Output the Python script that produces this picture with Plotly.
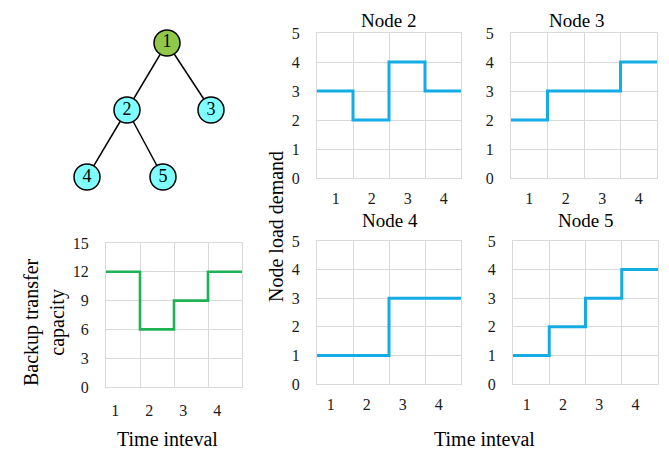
import plotly.graph_objects as go

# ---------------- data ----------------
time_labels = ["1", "2", "3", "4"]
interval_edges = [0, 1, 2, 3, 4]

backup_capacity = [12, 6, 9, 12]
node2_demand = [3, 2, 4, 3]
node3_demand = [2, 3, 3, 4]
node4_demand = [1, 1, 3, 3]
node5_demand = [1, 2, 3, 4]

tree_nodes = ["1", "2", "3", "4", "5"]
tree_x = [2.0, 1.0, 3.1, 0.0, 1.9]
tree_level = [0, 1, 1, 2, 2]
tree_edges = [("1", "2"), ("1", "3"), ("2", "4"), ("2", "5")]
tree_colors = ["#92C84A", "#7FFFFF", "#7FFFFF", "#7FFFFF", "#7FFFFF"]

# ---------------- layout helpers ----------------
W, H = 669, 451
OFF = 8  # page body margin in the browser
FONT = "Liberation Serif, Times New Roman, serif"
GRID = "#D9D9D9"
BLUE = "#14ACE4"
GREEN = "#1DB354"


def px_x(p):
    return (p - OFF) / W


def px_y(p):
    return 1 - (p - OFF) / H


fig = go.Figure()


def step_xy(vals):
    return interval_edges, list(vals) + [vals[-1]]


panels = [
    # (data, color, xaxis, yaxis, x domain px, y domain px, ymax, dtick, label offset)
    (backup_capacity, GREEN, "x", "y", (106, 242), (243, 387), 15, 3, 0.27),
    (node2_demand, BLUE, "x2", "y2", (317, 461), (33, 178), 5, 1, 0.52),
    (node3_demand, BLUE, "x3", "y3", (511, 657), (33, 178), 5, 1, 0.5),
    (node4_demand, BLUE, "x4", "y4", (317, 461), (241, 384), 5, 1, 0.38),
    (node5_demand, BLUE, "x5", "y5", (513, 658), (241, 384), 5, 1, 0.38),
]

for i, (vals, col, xa, ya, xd, yd, ymax, dt, off) in enumerate(panels):
    xs, ys = step_xy(vals)
    fig.add_trace(go.Scatter(x=xs, y=ys, mode="lines", line_shape="hv",
                             line=dict(color=col, width=3 if col == BLUE else 2.6),
                             xaxis=xa, yaxis=ya, showlegend=False,
                             hoverinfo="skip"))
    sfx = "" if i == 0 else str(i + 1)
    fig.update_layout(**{
        "xaxis" + sfx: dict(
            domain=[px_x(xd[0]), px_x(xd[1])], anchor=ya,
            range=[interval_edges[0], interval_edges[-1]],
            tickvals=[e + off for e in interval_edges[:-1]], ticktext=time_labels,
            showgrid=False, zeroline=False, automargin=False,
            showline=True, mirror=True, linecolor=GRID, linewidth=1,
            ticks="", ticklabelstandoff=6 if i else 9,
            tickfont=dict(family=FONT, size=16, color="#1a1a1a"),
            minor=dict(tickvals=interval_edges, showgrid=True, gridcolor=GRID,
                       gridwidth=1, ticks=""),
            fixedrange=True,
        ),
        "yaxis" + sfx: dict(
            domain=[px_y(yd[1]), px_y(yd[0])], anchor=xa,
            range=[0, ymax], dtick=dt, tick0=0, automargin=False,
            showgrid=True, gridcolor=GRID, gridwidth=1, zeroline=False,
            showline=True, mirror=True, linecolor=GRID, linewidth=1,
            ticks="", ticklabelstandoff=13,
            tickfont=dict(family=FONT, size=16, color="#1a1a1a"),
            fixedrange=True,
        ),
    })

# ---------------- tree ----------------
pos = {n: (x, l) for n, x, l in zip(tree_nodes, tree_x, tree_level)}
ex, ey = [], []
for a, b in tree_edges:
    ex += [pos[a][0], pos[b][0], None]
    ey += [pos[a][1], pos[b][1], None]
fig.add_trace(go.Scatter(x=ex, y=ey, mode="lines",
                         line=dict(color="black", width=1.5),
                         xaxis="x6", yaxis="y6", showlegend=False,
                         hoverinfo="skip"))
fig.add_trace(go.Scatter(x=tree_x, y=tree_level, mode="markers+text",
                         text=tree_nodes, textposition="middle center",
                         textfont=dict(family=FONT, size=18, color="black"),
                         marker=dict(size=26, color=tree_colors,
                                     line=dict(color="black", width=1.5)),
                         xaxis="x6", yaxis="y6", showlegend=False,
                         hoverinfo="skip", cliponaxis=False))
fig.update_layout(
    xaxis6=dict(domain=[px_x(60), px_x(260)], range=[-0.675, 4.325],
                visible=False, anchor="y6", fixedrange=True, automargin=False),
    yaxis6=dict(domain=[px_y(200), px_y(20)], range=[2.343, -0.343],
                visible=False, anchor="x6", fixedrange=True, automargin=False),
)

# ---------------- annotations ----------------
ann = []


def add_text(text, x, y, size=20, angle=0, yanchor="middle"):
    ann.append(dict(text=text, x=px_x(x), y=px_y(y), xref="paper", yref="paper",
                    showarrow=False, textangle=angle, xanchor="center",
                    yanchor=yanchor,
                    font=dict(family=FONT, size=size, color="black")))


add_text("Node 2", 388, 8, size=19, yanchor="top")
add_text("Node 3", 576, 8, size=19, yanchor="top")
add_text("Node 4", 390, 220, size=19)
add_text("Node 5", 585, 220, size=19)
add_text("Node load demand", 276, 227, angle=-90)
add_text("Backup transfer<br>capacity", 44, 322, angle=-90)
add_text("Time inteval", 167, 439)
add_text("Time inteval", 485, 439)

fig.update_layout(
    width=W, height=H, margin=dict(l=0, r=0, t=0, b=0, autoexpand=False),
    paper_bgcolor="white", plot_bgcolor="white",
    font=dict(family=FONT, size=16, color="#1a1a1a"),
    annotations=ann, showlegend=False,
)

fig.write_html("out.html")
